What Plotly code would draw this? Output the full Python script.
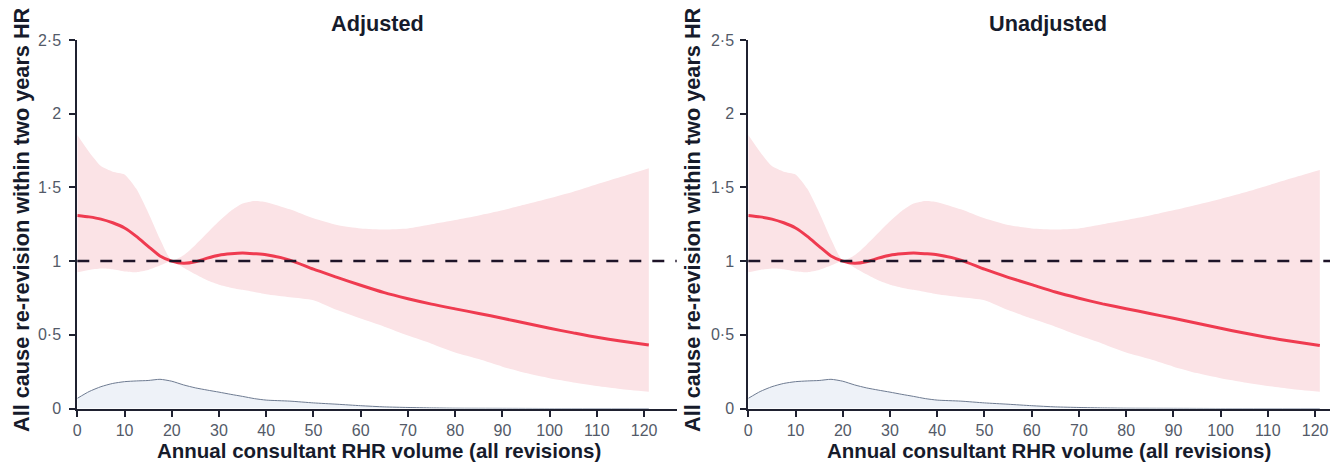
import plotly.graph_objects as go

# Spline estimate of hazard ratio vs annual consultant volume
volume = [0, 2.5, 5, 7.5, 10, 12.5, 15, 17.5, 20, 22.5, 25, 27.5, 30, 32.5, 35, 37.5,
          40, 45, 50, 55, 60, 65, 70, 75, 80, 85, 90, 95, 100, 105, 110, 115, 121]

adj_hr = [1.31, 1.30, 1.285, 1.26, 1.225, 1.168, 1.10, 1.035, 1.0, 0.985, 0.995, 1.02,
          1.04, 1.05, 1.055, 1.05, 1.043, 1.007, 0.945, 0.89, 0.836, 0.786, 0.745, 0.708,
          0.676, 0.645, 0.612, 0.578, 0.544, 0.513, 0.483, 0.458, 0.431]
adj_upper = [1.855, 1.74, 1.645, 1.607, 1.588, 1.49, 1.33, 1.15, 1.005, 1.04, 1.11, 1.19,
             1.27, 1.34, 1.39, 1.408, 1.40, 1.351, 1.29, 1.245, 1.222, 1.215, 1.222, 1.25,
             1.279, 1.31, 1.345, 1.385, 1.426, 1.47, 1.521, 1.57, 1.63]
adj_lower = [0.925, 0.94, 0.95, 0.945, 0.93, 0.925, 0.94, 0.97, 1.0, 0.955, 0.91, 0.87,
             0.84, 0.82, 0.805, 0.79, 0.775, 0.755, 0.735, 0.668, 0.61, 0.555, 0.495, 0.44,
             0.38, 0.335, 0.284, 0.24, 0.205, 0.177, 0.153, 0.133, 0.114]

unadj_hr = [1.31, 1.30, 1.285, 1.26, 1.225, 1.168, 1.10, 1.035, 1.0, 0.985, 0.995, 1.02,
            1.04, 1.05, 1.055, 1.05, 1.043, 1.007, 0.945, 0.89, 0.84, 0.79, 0.748, 0.71,
            0.677, 0.645, 0.612, 0.578, 0.544, 0.512, 0.482, 0.456, 0.428]
unadj_upper = [1.855, 1.74, 1.645, 1.607, 1.588, 1.49, 1.33, 1.15, 1.005, 1.04, 1.11, 1.19,
               1.27, 1.34, 1.39, 1.408, 1.40, 1.351, 1.29, 1.245, 1.222, 1.215, 1.222, 1.25,
               1.279, 1.31, 1.345, 1.383, 1.422, 1.465, 1.513, 1.562, 1.618]
unadj_lower = [0.925, 0.94, 0.95, 0.945, 0.93, 0.925, 0.94, 0.97, 1.0, 0.955, 0.91, 0.87,
               0.84, 0.82, 0.805, 0.79, 0.775, 0.755, 0.735, 0.668, 0.61, 0.555, 0.495, 0.44,
               0.38, 0.335, 0.284, 0.24, 0.205, 0.177, 0.153, 0.133, 0.114]

# Distribution of consultant volume (scaled density)
dens_x = [0, 2.5, 5, 7.5, 10, 12.5, 15, 17.5, 20, 22.5, 25, 27.5, 30, 32.5, 35, 37.5,
          40, 45, 50, 55, 60, 65, 70, 75, 80, 90, 100, 121]
dens_y = [0.069, 0.115, 0.148, 0.17, 0.182, 0.187, 0.19, 0.198, 0.185, 0.16, 0.14, 0.125,
          0.111, 0.096, 0.082, 0.067, 0.057, 0.05, 0.038, 0.029, 0.019, 0.011, 0.007, 0.004,
          0.002, 0.001, 0.0, 0.0]

x_ticks = [0, 10, 20, 30, 40, 50, 60, 70, 80, 90, 100, 110, 120]
y_ticks = [0, 0.5, 1, 1.5, 2, 2.5]
y_tick_text = ["0", "0·5", "1", "1·5", "2", "2·5"]

panel_titles = ["Adjusted", "Unadjusted"]
x_title = "Annual consultant RHR volume (all revisions)"
y_title = "All cause re-revision within two years HR"

W, H = 1340, 463
FONT = "Arial, Liberation Sans, sans-serif"
AXIS_COL = "#1f2130"
BAND_COL = "rgb(251,227,230)"
LINE_COL = "rgb(239,59,80)"
SPL = dict(shape="spline", smoothing=0.6)

fig = go.Figure()

panels = [
    ("x", "y", adj_hr, adj_upper, adj_lower),
    ("x2", "y2", unadj_hr, unadj_upper, unadj_lower),
]
for xa, ya, hr, up, lo in panels:
    # confidence band: lower edge, then upper edge filled down to it
    fig.add_trace(go.Scatter(
        x=volume, y=lo, xaxis=xa, yaxis=ya, mode="lines",
        line=dict(width=0, color=BAND_COL, **SPL), hoverinfo="skip", showlegend=False))
    fig.add_trace(go.Scatter(
        x=volume, y=up, xaxis=xa, yaxis=ya, mode="lines", fill="tonexty",
        fillcolor=BAND_COL, line=dict(width=0, color=BAND_COL, **SPL),
        hoverinfo="skip", showlegend=False))
    fig.add_trace(go.Scatter(
        x=dens_x, y=dens_y, xaxis=xa, yaxis=ya, fill="tozeroy", fillcolor="#eef2f8",
        line=dict(color="#6e7b91", width=1, **SPL), mode="lines", showlegend=False))
    fig.add_trace(go.Scatter(
        x=volume, y=hr, xaxis=xa, yaxis=ya, mode="lines",
        line=dict(color=LINE_COL, width=3, **SPL), showlegend=False))

# Reference line at HR = 1
for xa, ya in [("x", "y"), ("x2", "y2")]:
    fig.add_shape(type="line", xref=f"{xa} domain", yref=ya, x0=0, x1=1, y0=1, y1=1,
                  line=dict(color="#1e1428", width=2.5, dash="12px,11px"), layer="above")

y_dom = [(H - 408.5) / H, (H - 40) / H]
x1_dom = [77.3 / W, 676.7 / W]
x2_dom = [748.3 / W, 1330 / W]
scale = 4.7233  # pixels per volume unit

axis_common = dict(
    showline=True, linecolor=AXIS_COL, linewidth=2, ticks="outside", ticklen=6,
    tickwidth=2, tickcolor=AXIS_COL, showgrid=False, zeroline=False,
    tickfont=dict(family=FONT, size=16, color="#535a68"), fixedrange=True,
)

fig.update_layout(
    width=W, height=H, margin=dict(l=0, r=0, t=0, b=0, autoexpand=False),
    paper_bgcolor="white", plot_bgcolor="white",
    xaxis=dict(domain=x1_dom, range=[0, (676.7 - 77.3) / scale], anchor="y",
               tickvals=x_ticks, ticklabelstandoff=0, **axis_common),
    xaxis2=dict(domain=x2_dom, range=[0, (1330 - 748.3) / scale], anchor="y2",
                tickvals=x_ticks, ticklabelstandoff=0, **axis_common),
    yaxis=dict(domain=y_dom, range=[0, 2.5], anchor="x", tickvals=y_ticks,
               ticktext=y_tick_text, ticklabelstandoff=5, **axis_common),
    yaxis2=dict(domain=y_dom, range=[0, 2.5], anchor="x2", tickvals=y_ticks,
                ticktext=y_tick_text, ticklabelstandoff=3, **axis_common),
)

title_font = dict(family=FONT, size=21.7, color="#161b2b")
xtitle_font = dict(family=FONT, size=20.5, color="#161b2b")
ann = []
for cx, t in [(377.5, panel_titles[0]), (1048, panel_titles[1])]:
    ann.append(dict(text=f"<b>{t}</b>", x=cx / W, y=(H - 24) / H, xref="paper", yref="paper",
                    xanchor="center", yanchor="middle", showarrow=False, font=title_font))
for cx in [378.5, 1049]:
    ann.append(dict(text=f"<b>{x_title}</b>", x=cx / W, y=(H - 450) / H, xref="paper",
                    yref="paper", xanchor="center", yanchor="middle", showarrow=False,
                    font=xtitle_font, borderpad=0))
for cx in [21, 692]:
    ann.append(dict(text=f"<b>{y_title}</b>", x=cx / W, y=(H - 220) / H, xref="paper",
                    yref="paper", xanchor="center", yanchor="middle", textangle=-90,
                    showarrow=False, font=title_font))
fig.update_layout(annotations=ann)

fig.write_html("out.html")
